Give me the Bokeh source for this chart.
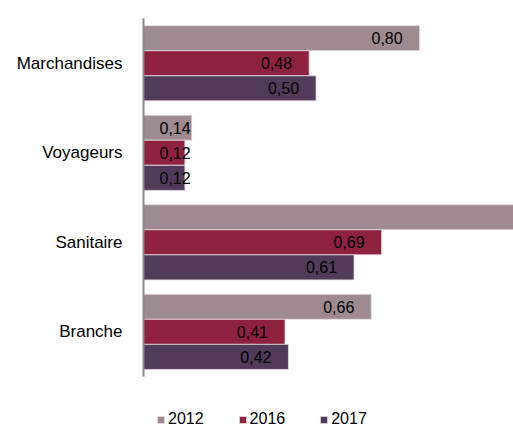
from bokeh.plotting import figure
from bokeh.models import ColumnDataSource, Legend, LegendItem, Range1d, FixedTicker
from bokeh.core.properties import value
from bokeh.embed import file_html
from bokeh.resources import INLINE

categories = ["Marchandises", "Voyageurs", "Sanitaire", "Branche"]
years = ["2012", "2016", "2017"]
v2012 = [0.80, 0.14, 1.10, 0.66]
v2016 = [0.48, 0.12, 0.69, 0.41]
v2017 = [0.50, 0.12, 0.61, 0.42]
colors = ["#9E8B91", "#8E2040", "#523A5A"]

X_END = 1.072
FONT = "Liberation Sans"
n = len(categories)
pos = [n - 1 - i for i in range(n)]  # first category on top

p = figure(width=513, height=428, output_backend="svg", toolbar_location=None,
           y_range=Range1d(-1.08, n - 0.5), x_range=Range1d(0, X_END))
p.min_border_left = 143
p.min_border_right = 0
p.min_border_top = 18
p.min_border_bottom = 0
p.outline_line_color = None
p.xgrid.visible = False
p.ygrid.visible = False
p.xaxis.visible = False

ax = p.yaxis[0]
ax.ticker = FixedTicker(ticks=pos)
ax.major_label_overrides = {pp: c for pp, c in zip(pos, categories)}
ax.bounds = (-0.5, n - 0.5)
ax.major_tick_line_color = None
ax.minor_tick_line_color = None
ax.axis_line_color = "#868686"
ax.axis_line_width = 2
ax.major_label_text_font = FONT
ax.major_label_text_font_size = "17px"
ax.major_label_text_color = "#000000"
ax.major_label_standoff = 15

series = [v2012, v2016, v2017]
offsets = [0.28, 0.0, -0.28]
items = []
for yr, vals, col, off in zip(years, series, colors, offsets):
    ys = [pp + off for pp in pos]
    src = ColumnDataSource(dict(y=ys, val=vals))
    r = p.hbar(y="y", right="val", left=0, height=0.28, source=src,
               fill_color=col, line_color="#E8E0E4", line_width=0.8)
    items.append(LegendItem(label=yr, renderers=[r]))
    labs = [("%.2f" % v).replace(".", ",") for v in vals]
    big = [i for i, v in enumerate(vals) if 0.2 <= v <= X_END]
    small = [i for i, v in enumerate(vals) if v < 0.2]
    sb = ColumnDataSource(dict(y=[ys[i] for i in big],
                               val=[vals[i] for i in big],
                               lab=[labs[i] for i in big]))
    p.text(x="val", y="y", text="lab", source=sb,
           text_align="right", text_baseline="middle", x_offset=-17,
           text_font=value(FONT), text_font_size="16px", text_color="#000000")
    ss = ColumnDataSource(dict(y=[ys[i] for i in small],
                               val=[0 for i in small],
                               lab=[labs[i] for i in small]))
    p.text(x="val", y="y", text="lab", source=ss,
           text_align="left", text_baseline="middle", x_offset=16,
           text_font=value(FONT), text_font_size="16px", text_color="#000000")

legend = Legend(items=items, orientation="horizontal", location=(13, 0),
                glyph_width=9, glyph_height=9, label_standoff=3, spacing=34,
                padding=0, margin=0, border_line_color=None,
                background_fill_alpha=0,
                label_text_font=FONT, label_text_font_size="16px",
                label_text_color="#000000")
p.add_layout(legend)

open("out.html", "w").write(file_html(p, INLINE))
